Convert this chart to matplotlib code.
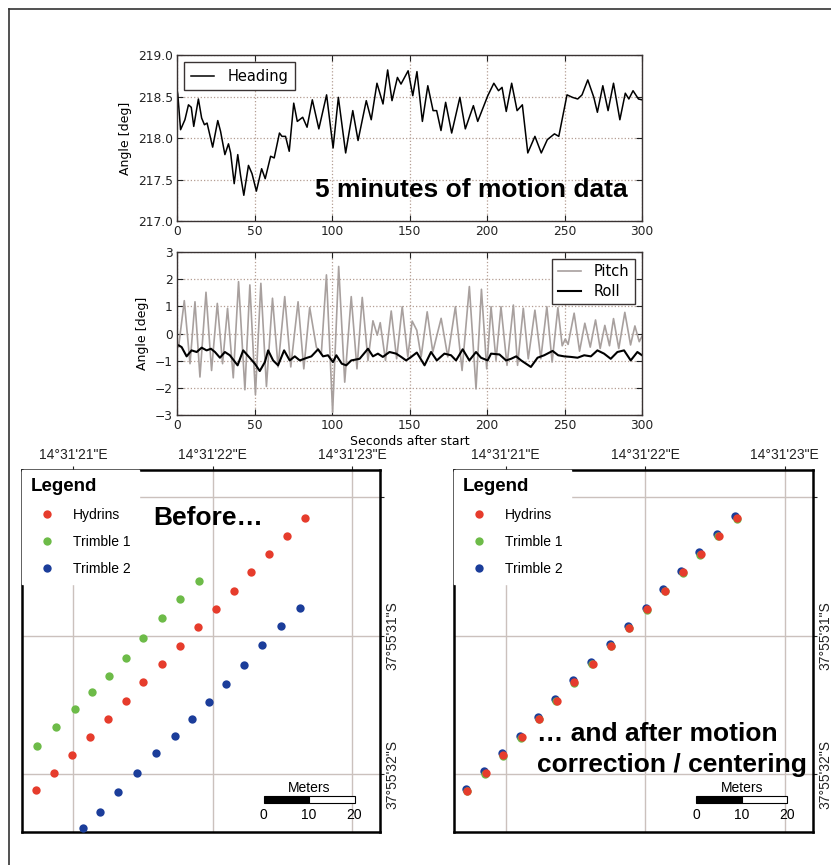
import numpy as np
import matplotlib
matplotlib.use('Agg')
from matplotlib import pyplot as plt
from matplotlib.lines import Line2D
from matplotlib.patches import Rectangle

# motion data (seconds after start, degrees)
tHeading = [0, 0.5, 2.3, 5.1, 7.4, 9.2, 10.8, 13.8, 15.9, 17.7, 19.4, 23.0, 26.3, 28.1,
            30.9, 33.2, 34.6, 36.9, 39.2, 41.0, 43.1, 46.1, 48.4, 51.2, 54.6, 56.9,
            60.4, 62.7, 66.1, 67.7, 70.0, 72.4, 75.3, 77.6, 81.1, 83.9, 87.3, 91.5,
            96.5, 100.7, 104.1, 108.8, 113.4, 116.8, 122.1, 125.3, 129.0, 132.9,
            135.9, 138.7, 142.2, 144.5, 149.1, 152.1, 154.8, 158.3, 161.8, 165.2,
            167.5, 170.3, 173.3, 177.2, 182.5, 186.0, 191.2, 194.0, 200.5, 204.4,
            207.4, 209.7, 212.4, 215.9, 219.4, 222.8, 226.3, 230.9, 235.0, 238.9,
            243.5, 246.3, 251.6, 255.1, 258.5, 261.3, 265.0, 268.9, 271.2, 274.7,
            278.1, 281.6, 285.7, 289.2, 291.5, 294.2, 297.7, 300]
heading = [218.58, 218.53, 218.10, 218.22, 218.40, 218.37, 218.14, 218.47, 218.24, 218.16,
           218.18, 217.89, 218.21, 218.08, 217.80, 217.93, 217.82, 217.45, 217.80, 217.55,
           217.31, 217.67, 217.57, 217.36, 217.63, 217.51, 217.78, 217.76, 218.06, 218.02,
           218.02, 217.84, 218.42, 218.20, 218.25, 218.13, 218.46, 218.11, 218.52, 217.88,
           218.49, 217.82, 218.33, 217.97, 218.45, 218.22, 218.66, 218.41, 218.82, 218.45,
           218.73, 218.65, 218.81, 218.51, 218.80, 218.20, 218.63, 218.33, 218.33, 218.09,
           218.43, 218.06, 218.49, 218.11, 218.39, 218.20, 218.51, 218.66, 218.57, 218.61,
           218.32, 218.66, 218.33, 218.40, 217.82, 218.02, 217.82, 217.98, 218.05, 218.02,
           218.52, 218.49, 218.47, 218.52, 218.70, 218.49, 218.31, 218.63, 218.33, 218.66,
           218.22, 218.54, 218.47, 218.57, 218.47, 218.46]

tPitch = [0, 1.0, 4.7, 8.4, 11.6, 14.8, 18.7, 22.3, 26.0, 29.4, 32.6, 36.3, 39.7, 43.8,
          47.0, 50.6, 54.1, 57.7, 61.6, 65.2, 69.5, 73.4, 78.1, 81.8, 85.6, 89.9, 93.1,
          96.4, 100.4, 104.3, 108.2, 112.4, 116.1, 119.5, 123.2, 126.4, 129.2, 131.1,
          134.5, 138.2, 141.7, 145.3, 148.9, 151.7, 154.7, 157.5, 161.4, 165.0, 170.4,
          174.7, 179.6, 183.9, 188.6, 192.9, 196.4, 199.8, 202.6, 205.8, 209.0, 212.9,
          217.0, 219.7, 223.4, 226.6, 230.9, 234.7, 238.6, 242.0, 245.7, 248.5, 250.5,
          252.3, 256.2, 259.7, 263.1, 266.6, 270.0, 273.0, 276.0, 279.0, 281.6, 285.0,
          288.9, 292.6, 295.4, 298.2, 300]
pitch = [-0.45, -0.5, 1.21, -1.11, 1.17, -1.6, 1.52, -1.36, 1.11, -1.11, 0.93, -1.63, 1.91,
         -2.07, 1.79, -2.25, 1.85, -1.95, 1.3, -1.23, 1.36, -1.23, 1.17, -1.3, 0.96, -0.5,
         -0.75, 2.16, -2.9, 2.47, -1.79, 1.36, -1.3, 1.33, -0.99, 0.47, -0.06, 0.4, -0.99,
         0.83, -0.93, 0.99, -0.86, 0.46, 0.12, -0.86, 0.8, -0.68, 0.56, -0.86, 0.99, -1.36,
         1.73, -2.04, 1.63, -1.3, 0.99, -0.99, 0.99, -1.17, 1.05, -1.17, 0.93, -0.93, 0.86,
         -0.93, 0.99, -1.05, 0.95, -0.45, -0.2, -0.4, 0.75, -0.65, 0.38, -0.5, 0.5, -0.55,
         0.3, -0.45, 0.55, -0.55, 0.78, -0.42, 0.28, -0.3, -0.1]

tRoll = [0, 1.0, 3.0, 6.2, 9.4, 12.7, 15.9, 19.1, 21.9, 24.5, 27.7, 30.9, 34.1, 39.1, 42.7,
         46.4, 50.2, 53.4, 56.7, 58.8, 62.0, 65.2, 69.1, 72.7, 76.0, 79.2, 83.5, 86.7, 91.0,
         94.2, 97.4, 100.6, 102.8, 106.3, 109.2, 112.4, 117.8, 123.2, 126.4, 129.6, 132.8,
         137.1, 141.4, 144.6, 147.8, 151.1, 154.7, 159.7, 163.9, 167.6, 172.5, 176.8, 180.0,
         184.3, 188.6, 192.9, 196.1, 200.4, 202.6, 208.0, 212.3, 215.5, 218.8, 222.0, 228.3,
         232.6, 236.9, 242.3, 245.9, 249.8, 254.0, 258.4, 262.7, 267.0, 271.2, 275.5, 279.8,
         284.1, 288.4, 292.7, 297.0, 300]
roll = [-0.45, -0.43, -0.5, -0.84, -0.62, -0.68, -0.52, -0.62, -0.56, -0.68, -0.89, -0.68,
        -0.8, -1.17, -0.62, -0.86, -1.11, -1.38, -1.05, -0.62, -0.99, -1.17, -0.62, -0.99,
        -0.84, -0.99, -0.9, -0.84, -0.58, -0.84, -0.8, -1.05, -0.8, -1.11, -1.17, -0.99,
        -0.93, -0.56, -0.84, -0.74, -0.86, -0.68, -0.74, -0.86, -0.99, -0.86, -0.7, -1.17,
        -0.68, -0.99, -0.74, -0.8, -0.99, -0.58, -0.99, -0.68, -0.89, -0.99, -0.74, -0.77,
        -0.99, -0.93, -0.84, -0.99, -1.23, -0.89, -0.8, -0.64, -0.8, -0.84, -0.86, -0.89,
        -0.8, -0.84, -0.62, -0.74, -0.93, -0.68, -0.62, -0.99, -0.68, -0.8]

# GPS positions, arc seconds of 14°31'xx"E and 37°55'yy"S
lonHydBefore = [20.730, 20.861, 20.988, 21.119, 21.248, 21.375, 21.502, 21.633, 21.764, 21.896,
                22.025, 22.151, 22.278, 22.402, 22.531, 22.665]
latHydBefore = [32.114, 31.989, 31.861, 31.734, 31.599, 31.469, 31.334, 31.202, 31.072, 30.939,
                30.809, 30.675, 30.540, 30.410, 30.278, 30.152]
lonTr1Before = [20.737, 20.878, 21.014, 21.136, 21.253, 21.375, 21.502, 21.633, 21.769, 21.903]
latTr1Before = [31.799, 31.661, 31.531, 31.409, 31.289, 31.161, 31.017, 30.872, 30.733, 30.607]
lonTr2Before = [21.072, 21.194, 21.323, 21.459, 21.597, 21.728, 21.855, 21.977, 22.099, 22.226,
                22.357, 22.491, 22.627]
latTr2Before = [32.391, 32.271, 32.131, 31.989, 31.849, 31.722, 31.601, 31.477, 31.347, 31.209,
                31.067, 30.928, 30.802]

lonHydAfter = [20.725, 20.857, 20.984, 21.115, 21.239, 21.366, 21.492, 21.624, 21.755, 21.887,
               22.016, 22.142, 22.271, 22.398, 22.527, 22.661]
latHydAfter = [32.119, 31.991, 31.861, 31.734, 31.599, 31.469, 31.334, 31.202, 31.072, 30.942,
               30.809, 30.675, 30.542, 30.410, 30.278, 30.152]
lonTr1After = [20.721, 20.853, 20.981, 21.112, 21.237, 21.363, 21.490, 21.621, 21.752, 21.885,
               22.013, 22.139, 22.269, 22.395, 22.524, 22.657]
latTr1After = [32.124, 31.996, 31.866, 31.740, 31.604, 31.474, 31.339, 31.208, 31.078, 30.947,
               30.814, 30.680, 30.548, 30.415, 30.283, 30.157]
lonTr2After = [20.713, 20.845, 20.972, 21.103, 21.229, 21.354, 21.481, 21.612, 21.746, 21.875,
               22.006, 22.130, 22.258, 22.385, 22.515, 22.646]
latTr2After = [32.104, 31.977, 31.849, 31.722, 31.589, 31.457, 31.321, 31.190, 31.062, 30.930,
               30.797, 30.662, 30.530, 30.397, 30.265, 30.139]

lonTicks = [21, 22, 23]
lonLabels = ['14°31\'21"E', '14°31\'22"E', '14°31\'23"E']
latTicks = [30, 31, 32]
latLabels = ['', '37°55\'31"S', '37°55\'32"S']
scaleMeters = [0, 10, 20]
secPerMeter = 0.0326

red = '#e63c2c'
green = '#6dbb48'
blue = '#1b3d9a'
gridCol = '#b49d92'

fig = plt.figure(figsize=(8.31, 8.65), dpi=100)

def chart_style(ax):
    ax.grid(True, color=gridCol, ls=':', lw=0.9)
    ax.tick_params(direction='in', top=True, right=True, labelsize=8.8, length=4,
                   colors='#222222', pad=3)
    for s in ax.spines.values():
        s.set_color('#3a3333')
        s.set_linewidth(1.0)
    ax.set_xlim(0, 300)
    ax.set_xticks([0, 50, 100, 150, 200, 250, 300])

ax1 = fig.add_axes([0.2130, 0.7445, 0.5596, 0.1919])
ax1.plot(tHeading, heading, color='black', lw=1.1, label='Heading')
chart_style(ax1)
ax1.set_ylim(217, 219)
ax1.set_yticks([217.0, 217.5, 218.0, 218.5, 219.0])
ax1.set_yticklabels(['217.0', '217.5', '218.0', '218.5', '219.0'])
ax1.set_ylabel('Angle [deg]', fontsize=9)
ax1.legend(loc='upper left', fontsize=10.5, fancybox=False, edgecolor='#3a3333',
           framealpha=1, handlelength=1.6, handletextpad=0.9, borderpad=0.45)
ax1.text(89, 217.29, '5 minutes of motion data', fontsize=19, fontweight='bold',
         family='Liberation Sans', ha='left', va='baseline')

ax2 = fig.add_axes([0.2130, 0.5202, 0.5596, 0.1884])
ax2.plot(tPitch, pitch, color='#a8a09e', lw=1.2, label='Pitch')
ax2.plot(tRoll, roll, color='black', lw=1.5, label='Roll')
chart_style(ax2)
ax2.set_ylim(-3, 3)
ax2.set_yticks([-3, -2, -1, 0, 1, 2, 3])
ax2.set_ylabel('Angle [deg]', fontsize=9)
ax2.set_xlabel('Seconds after start', fontsize=9, labelpad=2)
ax2.legend(loc='upper right', fontsize=10.5, fancybox=False, edgecolor='#3a3333',
           framealpha=1, handlelength=1.6, handletextpad=0.9, borderpad=0.35,
           labelspacing=0.3)

def map_axes(rect):
    ax = fig.add_axes(rect)
    ax.set_xlim(20.632, 23.201)
    ax.set_ylim(32.417, 29.804)
    ax.set_xticks(lonTicks)
    ax.set_xticklabels(lonLabels)
    ax.xaxis.tick_top()
    ax.set_yticks(latTicks)
    ax.set_yticklabels(latLabels)
    ax.yaxis.tick_right()
    ax.tick_params(length=3, width=0.8, labelsize=10, pad=3, colors='#222222')
    ax.tick_params(axis='y', pad=1)
    for lbl in ax.get_xticklabels() + ax.get_yticklabels():
        lbl.set_family('Liberation Sans')
    for lbl in ax.get_yticklabels():
        lbl.set_rotation(90)
        lbl.set_va('center')
    ax.grid(True, color='#cbc1bd', lw=1.0)
    ax.set_axisbelow(True)
    for s in ax.spines.values():
        s.set_color('black')
        s.set_linewidth(1.8)
    # scale bar
    y0, h = 32.157, 0.053
    ax.add_patch(Rectangle((22.366, y0), 10 * secPerMeter, h, facecolor='black',
                           edgecolor='black', lw=0.8, zorder=4))
    ax.add_patch(Rectangle((22.366 + 10 * secPerMeter, y0), 10 * secPerMeter, h,
                           facecolor='white', edgecolor='black', lw=0.8, zorder=4))
    ax.text(22.366 + 10 * secPerMeter, 32.10, 'Meters', fontsize=10, ha='center',
            va='center', family='Liberation Sans')
    for m in scaleMeters:
        ax.text(22.366 + m * secPerMeter, 32.296, str(m), fontsize=10, ha='center',
                va='center', family='Liberation Sans')
    return ax

def map_legend(ax, handles):
    leg = ax.legend(handles=handles, loc='upper left', bbox_to_anchor=(0, 1),
                    borderaxespad=0, frameon=True, fancybox=False, framealpha=1,
                    edgecolor='white', title='Legend', alignment='left',
                    title_fontproperties={'family': 'Liberation Sans', 'weight': 'bold',
                                          'size': 13.5},
                    prop={'family': 'Liberation Sans', 'size': 10},
                    handlelength=2.4, handletextpad=0.65, borderpad=0.6,
                    labelspacing=0.93, numpoints=1)
    leg.set_zorder(3)
    return leg

ms = 6
axL = map_axes([0.0265, 0.0382, 0.4308, 0.4185])
hH, = axL.plot(lonHydBefore, latHydBefore, 'o', color=red, ms=ms, mew=0, label='Hydrins', zorder=5)
hG, = axL.plot(lonTr1Before, latTr1Before, 'o', color=green, ms=ms, mew=0, label='Trimble 1', zorder=5)
hB, = axL.plot(lonTr2Before, latTr2Before, 'o', color=blue, ms=ms, mew=0, label='Trimble 2', zorder=5)
map_legend(axL, [hH, hG, hB])
axL.text(21.576, 30.201, 'Before…', fontsize=19, fontweight='bold',
         family='Liberation Sans', ha='left', va='baseline')

axR = map_axes([0.5467, 0.0382, 0.4313, 0.4185])
hB2, = axR.plot(lonTr2After, latTr2After, 'o', color=blue, ms=ms, mew=0, label='Trimble 2', zorder=5)
hG2, = axR.plot(lonTr1After, latTr1After, 'o', color=green, ms=ms, mew=0, label='Trimble 1', zorder=5)
hH2, = axR.plot(lonHydAfter, latHydAfter, 'o', color=red, ms=ms, mew=0, label='Hydrins', zorder=5)
map_legend(axR, [hH2, hG2, hB2])
axR.text(21.222, 31.763, '… and after motion', fontsize=19, fontweight='bold',
         family='Liberation Sans', ha='left', va='baseline', zorder=6)
axR.text(21.222, 31.987, 'correction / centering', fontsize=19, fontweight='bold',
         family='Liberation Sans', ha='left', va='baseline', zorder=6)

# outer frame
fig.add_artist(Line2D([9 / 831, 9 / 831], [0, 1 - 9 / 865], color='#333333', lw=1.2))
fig.add_artist(Line2D([9 / 831, 1], [1 - 9 / 865, 1 - 9 / 865], color='#333333', lw=1.2))

fig.savefig('out.png', dpi=100)
